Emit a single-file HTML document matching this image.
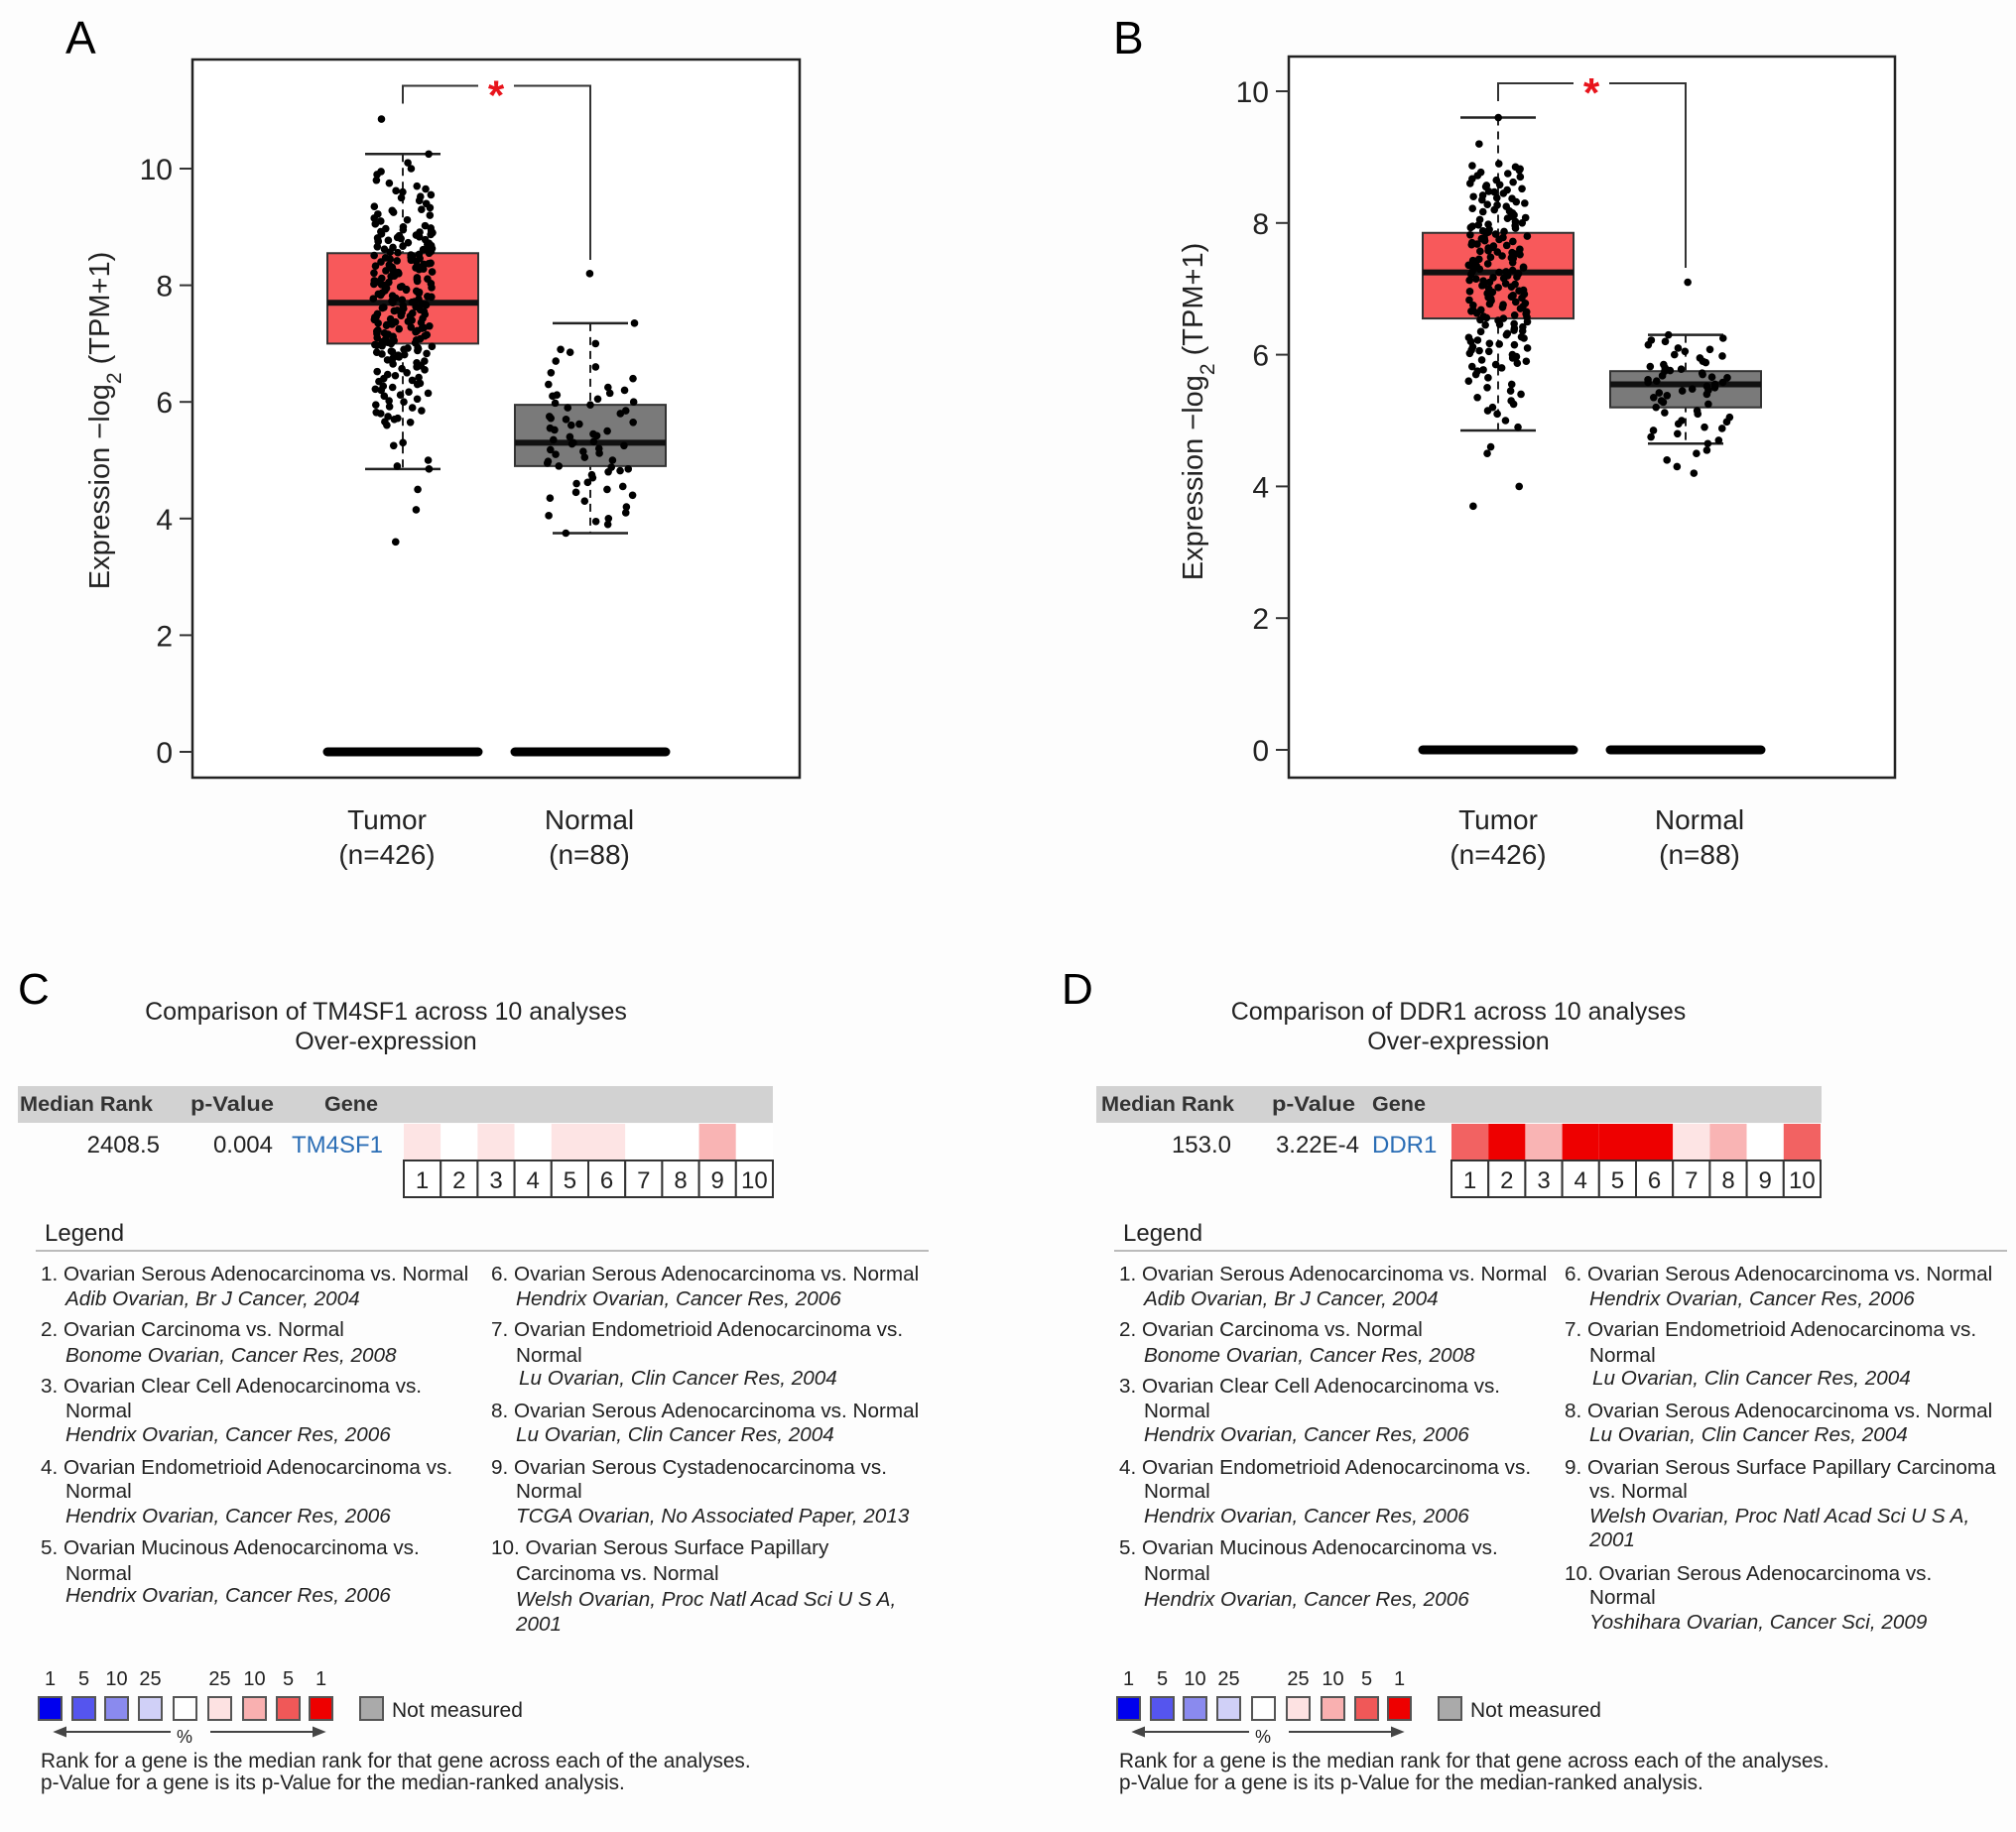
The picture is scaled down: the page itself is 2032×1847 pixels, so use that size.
<!DOCTYPE html>
<html><head><meta charset="utf-8">
<style>
html,body{margin:0;padding:0;background:#fff;}
svg{display:block;font-family:"Liberation Sans",sans-serif;}
</style></head>
<body>
<svg id="root" width="2032" height="1847" viewBox="0 0 2032 1847" xmlns="http://www.w3.org/2000/svg">
<rect x="0" y="0" width="2032" height="1847" fill="#fdfdfd"/>
</svg>
<script>
// ---------- Chart data ----------
const categories = ["Tumor", "Normal"];
const sampleLabels = ["(n=426)", "(n=88)"];
const yTicks = [0, 2, 4, 6, 8, 10];
// [whiskerLow, Q1, median, Q3, whiskerHigh]
const statsA_tumor = [4.85, 7.0, 7.7, 8.55, 10.25];
const statsA_normal = [3.75, 4.9, 5.3, 5.95, 7.35];
const statsB_tumor = [4.85, 6.55, 7.25, 7.85, 9.6];
const statsB_normal = [4.65, 5.2, 5.55, 5.75, 6.3];
const pointsA_tumor = [10.85,10.25,10.1,10.0,9.95,9.9,9.8,9.75,9.7,9.65,9.6,9.55,9.5,9.45,9.4,9.35,9.3,9.28,9.25,9.2,9.15,9.1,9.05,9.0,8.98,8.95,8.92,8.9,8.88,8.85,8.82,8.8,8.78,8.75,8.72,8.7,8.68,8.65,8.62,8.6,8.58,8.55,8.52,8.5,8.48,8.45,8.42,8.4,8.38,8.35,8.32,8.3,8.28,8.25,8.22,8.2,8.18,8.15,8.12,8.1,8.08,8.05,8.02,8.0,7.98,7.95,7.92,7.9,7.88,7.85,7.82,7.8,7.78,7.75,7.72,7.7,7.68,7.65,7.62,7.6,7.58,7.55,7.52,7.5,7.48,7.45,7.42,7.4,7.38,7.35,7.32,7.3,7.28,7.25,7.22,7.2,7.18,7.15,7.12,7.1,7.08,7.05,7.02,7.0,6.98,6.95,6.92,6.9,6.88,6.85,6.82,6.8,6.75,6.7,6.65,6.6,6.55,6.5,6.45,6.4,6.35,6.3,6.25,6.2,6.15,6.1,6.05,6.0,5.95,5.9,5.85,5.8,5.75,5.7,5.65,5.6,5.3,5.25,5.0,4.9,4.85,4.5,4.15,3.6,
 9.62,9.52,9.33,9.22,9.12,9.02,8.97,8.93,8.87,8.83,8.77,8.73,8.67,8.63,8.57,8.53,8.47,8.43,8.37,8.33,8.27,8.23,8.17,8.13,8.07,8.03,7.97,7.93,7.87,7.83,7.77,7.73,7.67,7.63,7.57,7.53,7.47,7.43,7.37,7.33,7.27,7.23,7.17,7.13,7.07,7.03,6.97,6.93,6.87,6.83,6.77,6.72,6.67,6.62,6.57,6.52,6.47,6.42,6.37,6.32,6.27,6.22,6.17,6.12,6.02,5.92,5.82,5.72,5.66,8.91,8.86,8.81,8.76,8.71,8.66,8.61,8.56,8.51,8.46,8.41,8.36,8.31,8.26,8.21,8.16,8.11,8.06,8.01,7.96,7.91,7.86,7.81,7.76,7.71,7.66,7.61,7.56,7.51,7.46,7.41,7.36,7.31,7.26,7.21,7.16,7.11,7.06,7.01,6.96,6.91,6.86,6.81];
const pointsA_normal = [8.2,7.35,7.0,6.9,6.85,6.7,6.6,6.5,6.3,6.25,6.2,6.15,6.1,6.05,6.0,5.95,5.9,5.85,5.8,5.75,5.7,5.65,5.6,5.55,5.5,5.45,5.4,5.35,5.3,5.28,5.25,5.2,5.15,5.1,5.05,5.0,4.95,4.9,4.85,4.8,4.75,4.7,4.6,4.5,4.45,4.4,4.3,4.2,4.1,4.05,4.0,3.95,3.9,3.75,6.12,5.98,5.72,5.52,5.32,5.12,4.98,4.82,4.62,4.35,6.4,5.62,5.42,5.18,4.88,4.55];
const pointsB_tumor = [9.6,9.2,8.9,8.85,8.8,8.75,8.7,8.65,8.6,8.55,8.5,8.45,8.4,8.35,8.3,8.25,8.2,8.15,8.1,8.05,8.0,7.98,7.95,7.92,7.9,7.88,7.85,7.82,7.8,7.78,7.75,7.72,7.7,7.68,7.65,7.62,7.6,7.58,7.55,7.52,7.5,7.48,7.45,7.42,7.4,7.38,7.35,7.32,7.3,7.28,7.25,7.22,7.2,7.18,7.15,7.12,7.1,7.08,7.05,7.02,7.0,6.98,6.95,6.92,6.9,6.88,6.85,6.82,6.8,6.78,6.75,6.72,6.7,6.68,6.65,6.62,6.6,6.58,6.55,6.52,6.5,6.45,6.4,6.35,6.3,6.25,6.2,6.15,6.1,6.05,6.0,5.95,5.9,5.85,5.8,5.75,5.7,5.6,5.5,5.4,5.3,5.2,5.1,5.0,4.9,4.6,4.5,4.0,3.7,
 8.87,8.82,8.77,8.72,8.67,8.62,8.57,8.52,8.47,8.42,8.37,8.32,8.27,8.22,8.17,8.12,8.07,8.02,7.97,7.93,7.87,7.83,7.77,7.73,7.67,7.63,7.57,7.53,7.47,7.43,7.37,7.33,7.27,7.23,7.17,7.13,7.07,7.03,6.97,6.93,6.87,6.83,6.77,6.73,6.67,6.63,6.57,6.53,6.47,6.42,6.37,6.32,6.27,6.22,6.17,6.12,6.07,6.02,5.97,5.92,5.87,5.82,5.77,5.65,5.55,5.45,5.35,5.25,5.15,8.58,8.48,8.38,8.28,8.18,8.08,7.96,7.86,7.76,7.66,7.56,7.46,7.36,7.26,7.16,7.06,6.96,6.86,6.76,6.66,6.56,6.46,6.36,6.26,6.16,6.06];
const pointsB_normal = [7.1,6.3,6.25,6.2,6.15,6.1,6.05,6.0,5.95,5.9,5.85,5.8,5.78,5.75,5.72,5.7,5.68,5.65,5.62,5.6,5.58,5.55,5.52,5.5,5.48,5.45,5.42,5.4,5.35,5.3,5.25,5.2,5.15,5.1,5.05,5.0,4.95,4.9,4.85,4.8,4.7,4.65,4.5,4.4,4.3,4.2,6.22,6.08,5.98,5.88,5.82,5.76,5.66,5.58,5.46,5.38,5.28,5.12,4.98,4.88,4.75,4.55];
const sigA = 11.42, sigB = 10.12;

// ---------- Heatmap data ----------
const analyses = [1,2,3,4,5,6,7,8,9,10];
const cellsC = [4,0,4,0,4,4,0,0,3,0];   // 0 white .. 1 strongest red
const cellsD = [2,1,3,1,1,1,4,3,0,2];
</script>
<script>
const NS = "http://www.w3.org/2000/svg";
const root = document.getElementById("root");
function el(tag, attrs, parent, text){
  const e = document.createElementNS(NS, tag);
  for (const k in attrs) e.setAttribute(k, attrs[k]);
  if (text !== undefined) e.textContent = text;
  (parent || root).appendChild(e);
  return e;
}
function jitter(i){ const s = Math.sin(i*12.9898+3.7)*43758.5453; return (s - Math.floor(s)) - 0.5; }

function drawBoxPanel(cfg){
  const g = el("g", {});
  
  
  const y = v => cfg.yZero - v * cfg.pxPerUnit;
  const lab = el("text", {x: cfg.labelX, y: 54, "font-size": 46}, g, cfg.letter);
  
  
  const frame = el("rect", {x: cfg.x0, y: cfg.y0, width: cfg.x1-cfg.x0, height: cfg.y1-cfg.y0, fill: "#fff", stroke: "#222", "stroke-width": 2.5}, g);
  
  
  yTicks.forEach(t => {
    const tl = el("line", {x1: cfg.x0-13, x2: cfg.x0, y1: y(t), y2: y(t), stroke: "#333", "stroke-width": 2}, g);
    
    
    const tx = el("text", {x: cfg.x0-20, y: y(t)+11, "font-size": 30, "text-anchor": "end", fill: "#222"}, g, String(t));
    
    
  });
  const yt = el("text", {transform: `translate(${cfg.titleX},${cfg.titleY}) rotate(-90)`, "font-size": 29, "text-anchor": "middle", fill: "#222"}, g);
  
  
  el("tspan", {}, yt, "Expression \u2212log");
  el("tspan", {"baseline-shift": "sub", "font-size": 21}, yt, "2");
  el("tspan", {}, yt, " (TPM+1)");
  const hw = 76;
  cfg.groups.forEach((gr, gi) => {
    const cx = cfg.centers[gi], s = gr.stats;
    const zb = el("line", {x1: cx-hw, x2: cx+hw, y1: y(0), y2: y(0), stroke: "#000", "stroke-width": 9, "stroke-linecap": "round"}, g);
    
    
    const wl = el("line", {x1: cx, x2: cx, y1: y(s[4]), y2: y(s[0]), stroke: "#222", "stroke-width": 2, "stroke-dasharray": "8,6"}, g);
    
    
    [s[0], s[4]].forEach(v => {
      const c = el("line", {x1: cx-38, x2: cx+38, y1: y(v), y2: y(v), stroke: "#222", "stroke-width": 2.5}, g);
      
      
    });
    const bx = el("rect", {x: cx-hw, y: y(s[3]), width: 2*hw, height: y(s[1])-y(s[3]), fill: gi===0 ? "#f8595b" : "#7a7a7a", stroke: "#333", "stroke-width": 2}, g);
    
    
    const md = el("line", {x1: cx-hw, x2: cx+hw, y1: y(s[2]), y2: y(s[2]), stroke: "#111", "stroke-width": 6}, g);
    
    
    const jw = gi===0 ? 60 : 90;
    gr.points.forEach((v, i) => {
      const p = el("circle", {cx: cx + jitter(i + gi*500 + cfg.seed) * jw, cy: y(v), r: 3.8, fill: "#000"}, g);
      
      
    });
    const lx = cfg.labelCenters[gi];
    const xl = el("text", {x: lx, y: cfg.y1+52, "font-size": 28, "text-anchor": "middle", fill: "#222"}, g, categories[gi]);
    
    
    const nl = el("text", {x: lx, y: cfg.y1+87, "font-size": 28, "text-anchor": "middle", fill: "#222"}, g, sampleLabels[gi]);
    
    
  });
  const by = y(cfg.sig), c0 = cfg.centers[0], c1 = cfg.centers[1];
  const br = el("path", {d: `M${c0},${by+18} V${by} H${cfg.starX-18} M${cfg.starX+18},${by} H${c1} V${cfg.bracketEnd}`, fill: "none", stroke: "#333", "stroke-width": 2}, g);
  
  
  const st = el("text", {x: cfg.starX, y: by+24, "font-size": 42, "text-anchor": "middle", fill: "#e8141c", "font-weight": "bold"}, g, "*");
  
  
}

drawBoxPanel({name: "boxplot-panel-a", letter: "A", labelX: 66, seed: 0, x0: 194, y0: 60, x1: 806, y1: 784, yZero: 758, pxPerUnit: 58.8, titleX: 110, titleY: 424,
  centers: [406, 595], labelCenters: [390, 594], groups: [{stats: statsA_tumor, points: pointsA_tumor}, {stats: statsA_normal, points: pointsA_normal}],
  sig: sigA, starX: 500, bracketEnd: 262});
drawBoxPanel({name: "boxplot-panel-b", letter: "B", labelX: 1122, seed: 77, x0: 1299, y0: 57, x1: 1910, y1: 784, yZero: 756, pxPerUnit: 66.4, titleX: 1212, titleY: 415,
  centers: [1510, 1699], labelCenters: [1510, 1713], groups: [{stats: statsB_tumor, points: pointsB_tumor}, {stats: statsB_normal, points: pointsB_normal}],
  sig: sigB, starX: 1604, bracketEnd: 270});

// ---------- Heatmap panels ----------
const cellColors = ["#ffffff", "#ee0000", "#f26262", "#f9b4b4", "#fde4e4"];
function drawHeat(cfg){
  const g = el("g", {});
  
  
  const o = cfg.ox;
  const lab = el("text", {x: 18+cfg.lox, y: 1012, "font-size": 44}, g, cfg.letter);
  
  
  const t1 = el("text", {x: 389+cfg.tox, y: 1028, "font-size": 25, "text-anchor": "middle", fill: "#222"}, g, cfg.title);
  
  
  const t2 = el("text", {x: 389+cfg.tox, y: 1058, "font-size": 25, "text-anchor": "middle", fill: "#222"}, g, "Over-expression");
  
  
  const hb = el("rect", {x: 18+o, y: 1095, width: 761+cfg.hbw, height: 37, fill: "#d2d2d2"}, g);
  
  
  cfg.headers.forEach(h => {
    const t = el("text", {x: h[1], y: 1120, "font-size": 21, "font-weight": "bold", fill: "#333", textLength: h[2], lengthAdjust: "spacingAndGlyphs"}, g, h[0]);
    
    
  });
  const r1 = el("text", {x: cfg.rankEnd, y: 1162, "font-size": 24, "text-anchor": "end", fill: "#222"}, g, cfg.rank);
  
  
  const r2 = el("text", {x: cfg.pEnd, y: 1162, "font-size": 24, "text-anchor": "end", fill: "#222"}, g, cfg.p);
  
  
  const r3 = el("text", {x: cfg.geneX, y: 1162, "font-size": 24, fill: "#2a6db5"}, g, cfg.gene);
  
  
  const cw = 37.2;
  analyses.forEach((a, i) => {
    const x = cfg.cellX + i*cw;
    const c = el("rect", {x: x, y: 1133, width: cw, height: 37, fill: cellColors[cfg.cells[i]]}, g);
    
    
    const nb = el("rect", {x: x, y: 1170, width: cw, height: 37, fill: "#fff", stroke: "#333", "stroke-width": 2}, g);
    
    
    const nt = el("text", {x: x+cw/2, y: 1198, "font-size": 24, "text-anchor": "middle", fill: "#222"}, g, String(a));
    
    
  });
  const lg = el("text", {x: 45+o, y: 1251, "font-size": 24, fill: "#222"}, g, "Legend");
  
  
  const ll = el("line", {x1: 36+o, x2: 936+o, y1: 1261, y2: 1261, stroke: "#bbb", "stroke-width": 2}, g);
  
  
  cfg.legend.forEach(ln => {
    const t = el("text", {x: ln[0] + o, y: ln[1] + 7, "font-size": 20.7, fill: "#222", "font-style": ln[3] ? "italic" : "normal"}, g, ln[2]);
    
    
  });
  const scaleCols = ["#0000ee","#5555ee","#8a8aee","#d0d0f7","#ffffff","#fde2e2","#f9b0b0","#f05858","#ee0000"];
  const scaleX = [39,73,106,140,175,210,245,279,312];
  const scaleLab = ["1","5","10","25","","25","10","5","1"];
  scaleCols.forEach((c, i) => {
    const r = el("rect", {x: scaleX[i]+o, y: 1711, width: 23, height: 23, fill: c, stroke: "#555", "stroke-width": 2}, g);
    
    
    if (scaleLab[i]) {
      const t = el("text", {x: scaleX[i]+11.5+o, y: 1699, "font-size": 20, "text-anchor": "middle", fill: "#222"}, g, scaleLab[i]);
      
      
    }
  });
  const nm = el("rect", {x: 363+o, y: 1711, width: 23, height: 23, fill: "#aaa", stroke: "#555", "stroke-width": 2}, g);
  
  
  const nmt = el("text", {x: 395+o, y: 1731, "font-size": 21, fill: "#222"}, g, "Not measured");
  
  
  const ar = el("path", {d: `M${172+o},1746 H${56+o} M${56+o},1746 l10,-4 v8 z M${212+o},1746 H${318+o} M${326+o},1746 l-10,-4 v8 z`, stroke: "#444", "stroke-width": 2, fill: "#444"}, g);
  
  
  const pc = el("text", {x: 186+o, y: 1757, "font-size": 18, "text-anchor": "middle", fill: "#222"}, g, "%");
  
  
  const f1 = el("text", {x: 41+o, y: 1782, "font-size": 20.8, fill: "#222"}, g, "Rank for a gene is the median rank for that gene across each of the analyses.");
  
  
  const f2 = el("text", {x: 41+o, y: 1804, "font-size": 20.8, fill: "#222"}, g, "p-Value for a gene is its p-Value for the median-ranked analysis.");
  
  
}

const L = 41, LI = 66, R = 495, RI = 520;
const legendC = [
 [L,1284,"1. Ovarian Serous Adenocarcinoma vs. Normal"],[LI,1309,"Adib Ovarian, Br J Cancer, 2004",1],
 [L,1340,"2. Ovarian Carcinoma vs. Normal"],[LI,1366,"Bonome Ovarian, Cancer Res, 2008",1],
 [L,1397,"3. Ovarian Clear Cell Adenocarcinoma vs."],[LI,1422,"Normal"],[LI,1446,"Hendrix Ovarian, Cancer Res, 2006",1],
 [L,1479,"4. Ovarian Endometrioid Adenocarcinoma vs."],[LI,1503,"Normal"],[LI,1528,"Hendrix Ovarian, Cancer Res, 2006",1],
 [L,1560,"5. Ovarian Mucinous Adenocarcinoma vs."],[LI,1586,"Normal"],[LI,1608,"Hendrix Ovarian, Cancer Res, 2006",1],
 [R,1284,"6. Ovarian Serous Adenocarcinoma vs. Normal"],[RI,1309,"Hendrix Ovarian, Cancer Res, 2006",1],
 [R,1340,"7. Ovarian Endometrioid Adenocarcinoma vs."],[RI,1366,"Normal"],[RI+3,1389,"Lu Ovarian, Clin Cancer Res, 2004",1],
 [R,1422,"8. Ovarian Serous Adenocarcinoma vs. Normal"],[RI,1446,"Lu Ovarian, Clin Cancer Res, 2004",1],
 [R,1479,"9. Ovarian Serous Cystadenocarcinoma vs."],[RI,1503,"Normal"],[RI,1528,"TCGA Ovarian, No Associated Paper, 2013",1],
 [R,1560,"10. Ovarian Serous Surface Papillary"],[RI,1586,"Carcinoma vs. Normal"],[RI,1612,"Welsh Ovarian, Proc Natl Acad Sci U S A,",1],[RI,1637,"2001",1]
];
const legendD = [
 [L,1284,"1. Ovarian Serous Adenocarcinoma vs. Normal"],[LI,1309,"Adib Ovarian, Br J Cancer, 2004",1],
 [L,1340,"2. Ovarian Carcinoma vs. Normal"],[LI,1366,"Bonome Ovarian, Cancer Res, 2008",1],
 [L,1397,"3. Ovarian Clear Cell Adenocarcinoma vs."],[LI,1422,"Normal"],[LI,1446,"Hendrix Ovarian, Cancer Res, 2006",1],
 [L,1479,"4. Ovarian Endometrioid Adenocarcinoma vs."],[LI,1503,"Normal"],[LI,1528,"Hendrix Ovarian, Cancer Res, 2006",1],
 [L,1560,"5. Ovarian Mucinous Adenocarcinoma vs."],[LI,1586,"Normal"],[LI,1612,"Hendrix Ovarian, Cancer Res, 2006",1],
 [R-5,1284,"6. Ovarian Serous Adenocarcinoma vs. Normal"],[RI-5,1309,"Hendrix Ovarian, Cancer Res, 2006",1],
 [R-5,1340,"7. Ovarian Endometrioid Adenocarcinoma vs."],[RI-5,1366,"Normal"],[RI-2,1389,"Lu Ovarian, Clin Cancer Res, 2004",1],
 [R-5,1422,"8. Ovarian Serous Adenocarcinoma vs. Normal"],[RI-5,1446,"Lu Ovarian, Clin Cancer Res, 2004",1],
 [R-5,1479,"9. Ovarian Serous Surface Papillary Carcinoma"],[RI-5,1503,"vs. Normal"],[RI-5,1528,"Welsh Ovarian, Proc Natl Acad Sci U S A,",1],[RI-5,1552,"2001",1],
 [R-5,1586,"10. Ovarian Serous Adenocarcinoma vs."],[RI-5,1610,"Normal"],[RI-5,1635,"Yoshihara Ovarian, Cancer Sci, 2009",1]
];

drawHeat({name: "heatmap-panel-c", letter: "C", ox: 0, lox: 0, tox: 0, hbw: 0, title: "Comparison of TM4SF1 across 10 analyses",
  headers: [["Median Rank",20,134],["p-Value",192,84],["Gene",327,54]], rank: "2408.5", rankEnd: 161, p: "0.004", pEnd: 275, gene: "TM4SF1", geneX: 294,
  cellX: 407, cells: cellsC, legend: legendC});
drawHeat({name: "heatmap-panel-d", letter: "D", ox: 1087, lox: 1052, tox: 1081, hbw: -30, title: "Comparison of DDR1 across 10 analyses",
  headers: [["Median Rank",1110,134],["p-Value",1282,84],["Gene",1383,54]], rank: "153.0", rankEnd: 1241, p: "3.22E-4", pEnd: 1370, gene: "DDR1", geneX: 1383,
  cellX: 1463, cells: cellsD, legend: legendD});
</script>
</body></html>
